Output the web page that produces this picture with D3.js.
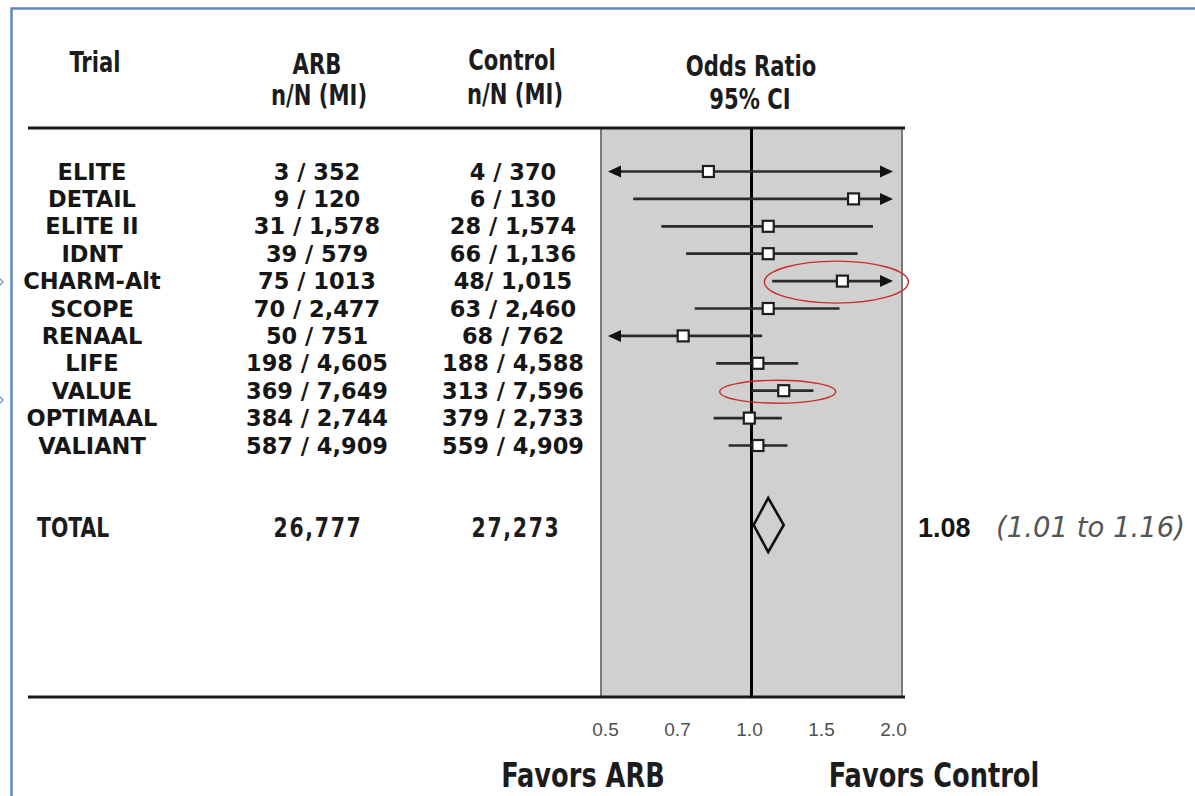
<!DOCTYPE html>
<html>
<head>
<meta charset="utf-8">
<script src="https://cdn.jsdelivr.net/npm/d3@7"></script>
<style>
  html, body { margin: 0; padding: 0; background: #fff; }
  svg { display: block; }
  .narrow { font-family: "Liberation Sans Narrow", "DejaVu Sans Condensed", "Arial Narrow", sans-serif; font-weight: bold; font-stretch: condensed; }
  .table { font-family: "DejaVu Sans", sans-serif; font-weight: bold; }
</style>
</head>
<body>
<svg id="chart" width="1195" height="796"></svg>
<script>
// ---- data ----
const trials = ["ELITE", "DETAIL", "ELITE II", "IDNT", "CHARM-Alt", "SCOPE", "RENAAL", "LIFE", "VALUE", "OPTIMAAL", "VALIANT"];
const arbCounts = ["3 / 352", "9 / 120", "31 / 1,578", "39 / 579", "75 / 1013", "70 / 2,477", "50 / 751", "198 / 4,605", "369 / 7,649", "384 / 2,744", "587 / 4,909"];
const controlCounts = ["4 / 370", "6 / 130", "28 / 1,574", "66 / 1,136", "48/ 1,015", "63 / 2,460", "68 / 762", "188 / 4,588", "313 / 7,596", "379 / 2,733", "559 / 4,909"];
const oddsRatio = [0.82, 1.60, 1.08, 1.08, 1.52, 1.08, 0.73, 1.03, 1.16, 0.99, 1.03];
const ciLower   = [0.19, 0.58, 0.66, 0.74, 1.10, 0.77, 0.35, 0.85, 1.00, 0.84, 0.90];
const ciUpper   = [3.60, 4.80, 1.75, 1.63, 2.40, 1.50, 1.05, 1.24, 1.33, 1.15, 1.18];

const totalLabel = "TOTAL";
const totalArb = "26,777";
const totalControl = "27,273";
const totalOR = 1.08, totalLower = 1.01, totalUpper = 1.16;

const tickLabels = ["0.5", "0.7", "1.0", "1.5", "2.0"];
const highlighted = ["CHARM-Alt", "VALUE"];

// ---- layout ----
const svg = d3.select("#chart");
const lineLeft = 28, lineRight = 905, topY = 128, bottomY = 697;

const x = d3.scaleLog().domain([0.5, 2.0]).range([601, 902]);
const y = d3.scalePoint().domain(trials).range([171.5, 445.5]);
const totalY = 525;
const tickPos = d3.scalePoint().domain(tickLabels).range([605, 893]);

// condensed display type: horizontally compressed glyphs
const squeeze = 0.84;
function condensed(g, txt, tx, ty, anchor = "middle") {
  return g.append("text")
    .attr("transform", `translate(${tx},${ty}) scale(${squeeze},1)`)
    .attr("text-anchor", anchor)
    .text(txt);
}

// outer frame
svg.append("rect")
  .attr("x", 11.5).attr("y", 8.5).attr("width", 1400).attr("height", 1000)
  .attr("fill", "none").attr("stroke", "#5b88c6").attr("stroke-width", 2.5);
[282, 400].forEach(cy => {
  svg.append("polyline")
    .attr("points", `-3,${cy - 6} 3,${cy} -3,${cy + 6}`)
    .attr("fill", "none").attr("stroke", "#7d9cc8").attr("stroke-width", 1.5);
});

// shaded plotting panel
svg.append("rect")
  .attr("x", x(0.5)).attr("y", topY).attr("width", x(2.0) - x(0.5)).attr("height", bottomY - topY)
  .attr("fill", "#d0d0d0");
[x(0.5), x(2.0)].forEach(px => {
  svg.append("line").attr("x1", px).attr("x2", px).attr("y1", topY).attr("y2", bottomY)
    .attr("stroke", "#7a7a7a").attr("stroke-width", 2);
});

// rules
[topY, bottomY].forEach(ly => {
  svg.append("line").attr("x1", lineLeft).attr("x2", lineRight).attr("y1", ly).attr("y2", ly)
    .attr("stroke", "#1a1a1a").attr("stroke-width", 3);
});

// line of no effect
svg.append("line").attr("x1", x(1)).attr("x2", x(1)).attr("y1", topY).attr("y2", bottomY)
  .attr("stroke", "#000").attr("stroke-width", 3);

// headers
const header = svg.append("g").attr("class", "narrow").attr("fill", "#1c1c1c").attr("font-size", 28);
[["Trial", 95, 72], ["ARB", 317, 74], ["n/N (MI)", 319, 105], ["Control", 512, 70], ["n/N (MI)", 515, 104], ["Odds Ratio", 751, 76], ["95% CI", 750, 109]]
  .forEach(([t, hx, hy]) => condensed(header, t, hx, hy));

// table body
const body = svg.append("g").attr("class", "table").attr("fill", "#161616").attr("font-size", 22.5).attr("text-anchor", "middle");
trials.forEach((t, i) => {
  const ty = y(t) + 8;
  body.append("text").attr("x", 92).attr("y", ty).text(t);
  body.append("text").attr("x", 317).attr("y", ty).text(arbCounts[i]);
  body.append("text").attr("x", 513).attr("y", ty).text(controlCounts[i]);
});

// confidence intervals
const [d0, d1] = x.domain();
const leftTip = x(d0) + 7, rightTip = x(d1) - 9;
const arrowLen = 13, arrowHalf = 6;
const ci = svg.append("g");
trials.forEach((t, i) => {
  const cy = y(t);
  const offLeft = ciLower[i] < d0, offRight = ciUpper[i] > d1;
  const x1 = offLeft ? leftTip : x(ciLower[i]);
  const x2 = offRight ? rightTip : x(ciUpper[i]);
  ci.append("line")
    .attr("x1", offLeft ? x1 + arrowLen - 1 : x1).attr("x2", offRight ? x2 - arrowLen + 1 : x2)
    .attr("y1", cy).attr("y2", cy)
    .attr("stroke", "#2a2a2a").attr("stroke-width", 2.7);
  if (offLeft) {
    ci.append("path").attr("d", `M${x1},${cy}L${x1 + arrowLen},${cy - arrowHalf}L${x1 + arrowLen},${cy + arrowHalf}Z`).attr("fill", "#111");
  }
  if (offRight) {
    ci.append("path").attr("d", `M${x2},${cy}L${x2 - arrowLen},${cy - arrowHalf}L${x2 - arrowLen},${cy + arrowHalf}Z`).attr("fill", "#111");
  }
});

// point estimates
const sq = 11;
svg.append("g").selectAll("rect").data(trials).join("rect")
  .attr("x", (t, i) => x(oddsRatio[i]) - sq / 2)
  .attr("y", t => y(t) - sq / 2)
  .attr("width", sq).attr("height", sq)
  .attr("fill", "#fff").attr("stroke", "#1e1e1e").attr("stroke-width", 2.2);

// highlighted trials
const ringSize = { "CHARM-Alt": [72, 21], "VALUE": [58, 11.5] };
highlighted.forEach(t => {
  const i = trials.indexOf(t);
  svg.append("ellipse")
    .attr("cx", x(oddsRatio[i]) - 6).attr("cy", y(t) + 1)
    .attr("rx", ringSize[t][0]).attr("ry", ringSize[t][1])
    .attr("fill", "none").attr("stroke", "#cc2b2b").attr("stroke-width", 1.4);
});

// pooled estimate
svg.append("path")
  .attr("d", `M${x(totalLower)},${totalY}L${x(totalOR)},${totalY - 27}L${x(totalUpper)},${totalY}L${x(totalOR)},${totalY + 27}Z`)
  .attr("fill", "none").attr("stroke", "#111").attr("stroke-width", 2.6).attr("stroke-linejoin", "miter");

const totals = svg.append("g").attr("class", "narrow").attr("fill", "#1c1c1c").attr("font-size", 27);
condensed(totals, totalLabel, 37, totalY + 12, "start");
condensed(totals, totalArb, 318, totalY + 12).attr("letter-spacing", 2);
condensed(totals, totalControl, 516, totalY + 12).attr("letter-spacing", 2);

svg.append("text").attr("x", 918).attr("y", totalY + 12)
  .attr("font-family", "Liberation Sans, Arial, sans-serif").attr("font-weight", "bold").attr("font-size", 27).attr("fill", "#161616")
  .text(d3.format(".2f")(totalOR));
svg.append("text").attr("x", 996).attr("y", totalY + 12)
  .attr("font-family", "DejaVu Sans, sans-serif").attr("font-style", "italic").attr("font-size", 27.5).attr("fill", "#555")
  .text(`(${d3.format(".2f")(totalLower)} to ${d3.format(".2f")(totalUpper)})`);

// axis labels
const axis = svg.append("g").attr("transform", `translate(0,${bottomY + 25})`)
  .call(d3.axisBottom(tickPos).tickSize(0).tickPadding(0));
axis.select(".domain").remove();
axis.selectAll("text")
  .attr("font-family", "Liberation Sans, Arial, sans-serif").attr("font-size", 19).attr("fill", "#4f4f4f");

// direction labels
const fav = svg.append("g").attr("class", "narrow").attr("fill", "#1c1c1c").attr("font-size", 34);
condensed(fav, "Favors ARB", 583, 787);
condensed(fav, "Favors Control", 934, 787);
</script>
</body>
</html>
